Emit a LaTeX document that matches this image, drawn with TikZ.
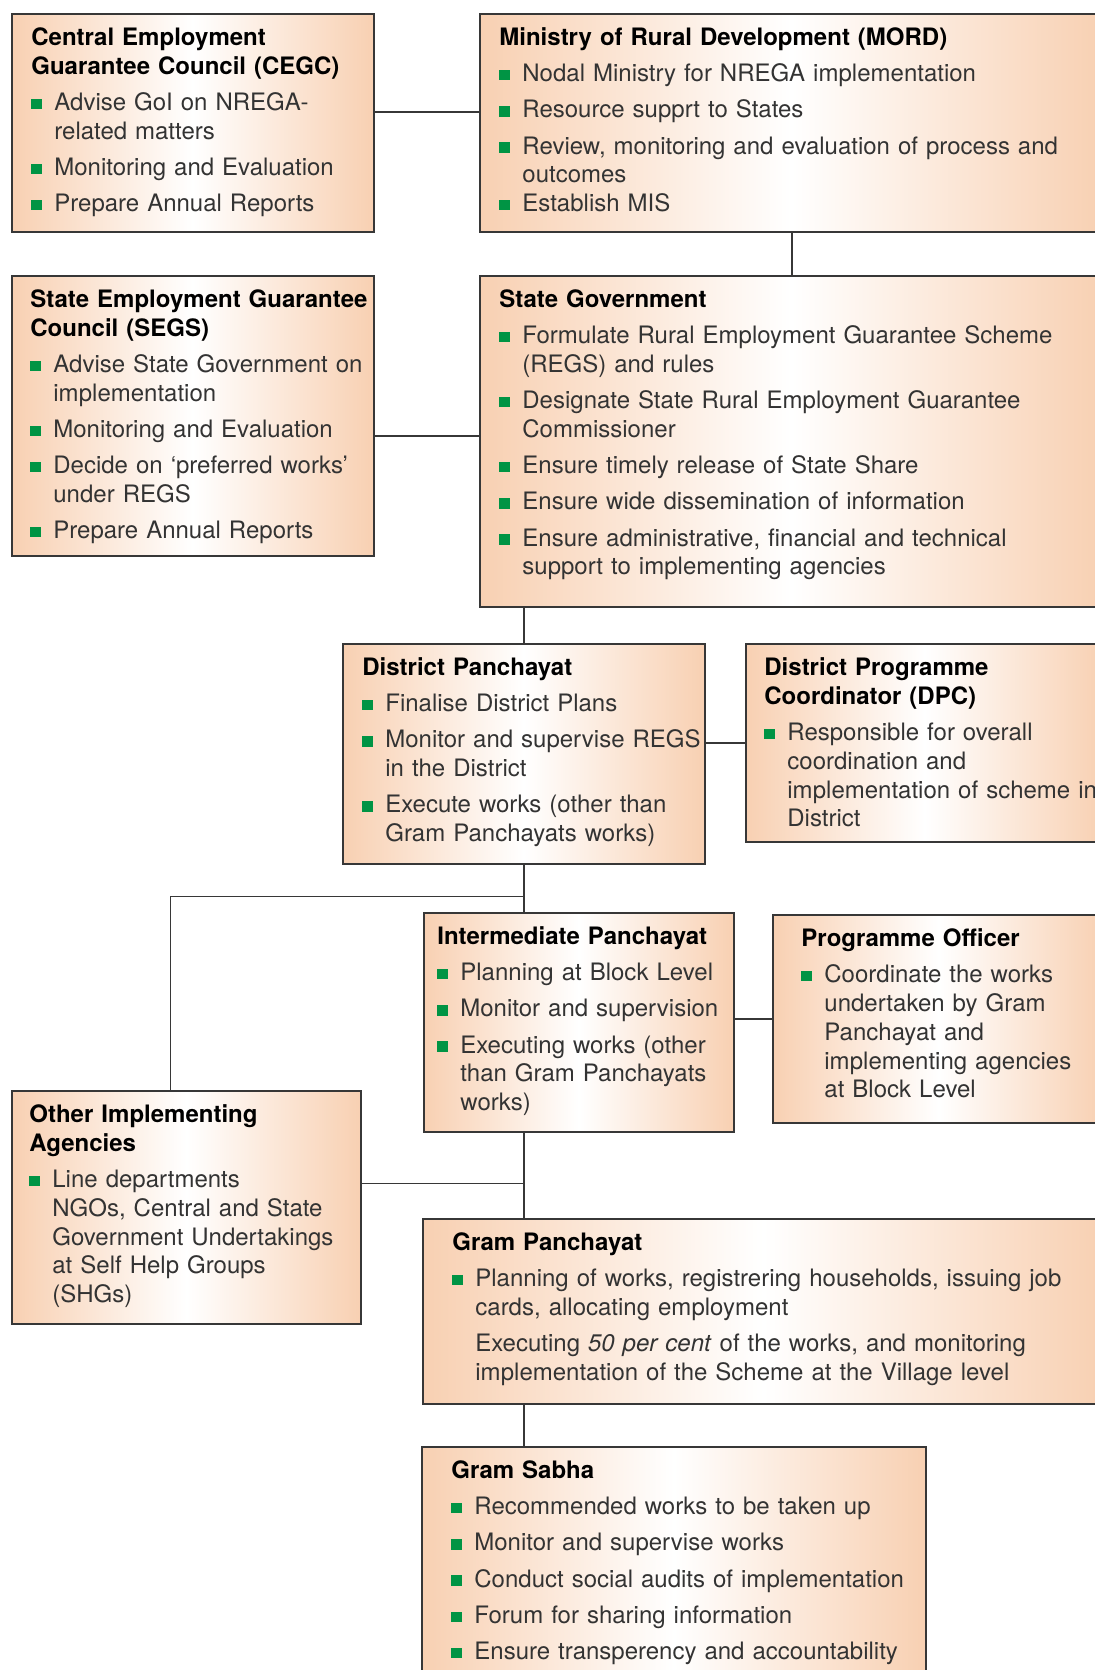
\documentclass[tikz,border=0pt]{standalone}
\usepackage{fontspec}
\setmainfont{TeX Gyre Heros}
\usepackage{tikz}
\definecolor{xpeach}{RGB}{248,208,178}
\definecolor{xgreen}{RGB}{0,148,68}
\definecolor{xline}{RGB}{55,55,55}
\newcommand{\bul}{\textcolor{xgreen}{\rule[0.7pt]{5.2pt}{5.2pt}}}
\newcommand{\ttl}[1]{\noindent\strut{\color{black}\bfseries #1}\par}
\newcommand{\itm}[2][3.7pt]{\vspace{#1}\hangindent=11.5pt\hangafter=1\noindent\makebox[11.5pt][l]{\bul}#2\par}
\newcommand{\itmx}[1]{\vspace{3.7pt}\hangindent=11.5pt\hangafter=0\noindent #1\par}

\begin{document}
\begin{tikzpicture}[x=0.5pt,y=-0.5pt]
\tikzset{orgbox/.style={draw=xline,line width=0.75pt,anchor=north west,inner sep=0pt,left color=xpeach,right color=xpeach,middle color=white}}
\tikzset{boxtext/.style={anchor=north west,inner sep=0pt,align=left,font=\fontsize{12}{14.4}\selectfont,text=black!80}}
\tikzset{conn/.style={draw=xline,line width=0.75pt}}
\useasboundingbox (0,0) rectangle (1095,1670);
\clip (0,0) rectangle (1095,1670);
\node[orgbox,minimum width=181pt,minimum height=109pt] (cegc) at (11,13) {};
\node[boxtext,text width=171pt] (cegc-t) at ([shift={(20,12)}]cegc.north west) {\ttl{Central Employment\newline Guarantee Council (CEGC)}
\itm{Advise GoI on NREGA-\newline related matters}
\itm{Monitoring and Evaluation}
\itm{Prepare Annual Reports}};
\node[orgbox,minimum width=312pt,minimum height=109pt] (mord) at (479,13) {};
\node[boxtext,text width=302pt] (mord-t) at ([shift={(20,12)}]mord.north west) {\ttl{Ministry of Rural Development (MORD)}
\itm{Nodal Ministry for NREGA implementation}
\itm{Resource supprt to States}
\itm{Review, monitoring and evaluation of process and\newline outcomes}
\itm[0pt]{Establish MIS}};
\node[orgbox,minimum width=181pt,minimum height=140pt] (segs) at (11,275) {};
\node[boxtext,text width=172pt] (segs-t) at ([shift={(19,12)}]segs.north west) {\ttl{State Employment Guarantee\newline Council (SEGS)}
\itm{Advise State Government on\newline implementation}
\itm{Monitoring and Evaluation}
\itm{Decide on ‘preferred works’\newline under REGS}
\itm{Prepare Annual Reports}};
\node[orgbox,minimum width=312pt,minimum height=165.5pt] (state) at (479,275) {};
\node[boxtext,text width=302pt] (state-t) at ([shift={(20,12)}]state.north west) {\ttl{State Government}
\itm{Formulate Rural Employment Guarantee Scheme\newline (REGS) and rules}
\itm{Designate State Rural Employment Guarantee\newline Commissioner}
\itm{Ensure timely release of State Share}
\itm{Ensure wide dissemination of information}
\itm{Ensure administrative, financial and technical\newline support to implementing agencies}};
\node[orgbox,minimum width=181pt,minimum height=110pt] (dp) at (342,643) {};
\node[boxtext,text width=171pt] (dp-t) at ([shift={(20,12)}]dp.north west) {\ttl{District Panchayat}
\itm{Finalise District Plans}
\itm{Monitor and supervise REGS\newline in the District}
\itm{Execute works (other than\newline Gram Panchayats works)}};
\node[orgbox,minimum width=179pt,minimum height=99pt] (dpc) at (745,643) {};
\node[boxtext,text width=169pt] (dpc-t) at ([shift={(19,12)}]dpc.north west) {\ttl{District Programme\newline Coordinator (DPC)}
\itm{Responsible for overall\newline coordination and\newline implementation of scheme in\newline District}};
\node[orgbox,minimum width=155pt,minimum height=109.5pt] (ip) at (423,912) {};
\node[boxtext,text width=148pt] (ip-t) at ([shift={(14,12)}]ip.north west) {\ttl{Intermediate Panchayat}
\itm{Planning at Block Level}
\itm{Monitor and supervision}
\itm{Executing works (other\newline than Gram Panchayats\newline works)}};
\node[orgbox,minimum width=165.5pt,minimum height=104pt] (po) at (772,914) {};
\node[boxtext,text width=151pt] (po-t) at ([shift={(29,12)}]po.north west) {\ttl{Programme Officer}
\itm{Coordinate the works\newline undertaken by Gram\newline Panchayat and\newline implementing agencies\newline at Block Level}};
\node[orgbox,minimum width=174.5pt,minimum height=116.5pt] (other) at (11,1090) {};
\node[boxtext,text width=165pt] (other-t) at ([shift={(18,12)}]other.north west) {\ttl{Other Implementing\newline Agencies}
\itm{Line departments\newline NGOs, Central and State\newline Government Undertakings\newline at Self Help Groups\newline (SHGs)}};
\node[orgbox,minimum width=340.5pt,minimum height=92.5pt] (gp) at (422,1218) {};
\node[boxtext,text width=325pt] (gp-t) at ([shift={(30,12)}]gp.north west) {\ttl{Gram Panchayat}
\itm{Planning of works, registrering households, issuing job\newline cards, allocating employment}
\itmx{Executing \textit{50 per cent} of the works, and monitoring\newline implementation of the Scheme at the Village level}};
\node[orgbox,minimum width=252pt,minimum height=150pt] (gs) at (421,1446) {};
\node[boxtext,text width=237pt] (gs-t) at ([shift={(30,12)}]gs.north west) {\ttl{Gram Sabha}
\itm{Recommended works to be taken up}
\itm{Monitor and supervise works}
\itm{Conduct social audits of implementation}
\itm{Forum for sharing information}
\itm{Ensure transperency and accountability}};
\coordinate (c1) at ([shift={(0,-11)}]cegc.east);
\draw[conn] (c1) -- (c1 -| mord.west);
\draw[conn] (mord.south) -- (state.north);
\coordinate (c2) at ([shift={(0,20)}]segs.east);
\draw[conn] (c2) -- (c2 -| state.west);
\draw[conn] (dp.north) -- (dp.north |- state.south);
\draw[conn] (dpc.west) -- (dpc.west -| dp.east);
\draw[conn] (dp.south) -- (dp.south |- ip.north);
\coordinate (j1) at ([shift={(0,32)}]dp.south);
\draw[conn] (j1) -| ([shift={(-16,0)}]other.north);
\draw[conn] (po.west) -- (po.west -| ip.east);
\draw[conn] (ip.south -| dp.south) -- (gp.north -| dp.south);
\coordinate (j2) at ([shift={(0,-24)}]other.east);
\draw[conn] (j2) -- (j2 -| dp.south);
\draw[conn] (gp.south -| dp.south) -- (gs.north -| dp.south);
\end{tikzpicture}
\end{document}
